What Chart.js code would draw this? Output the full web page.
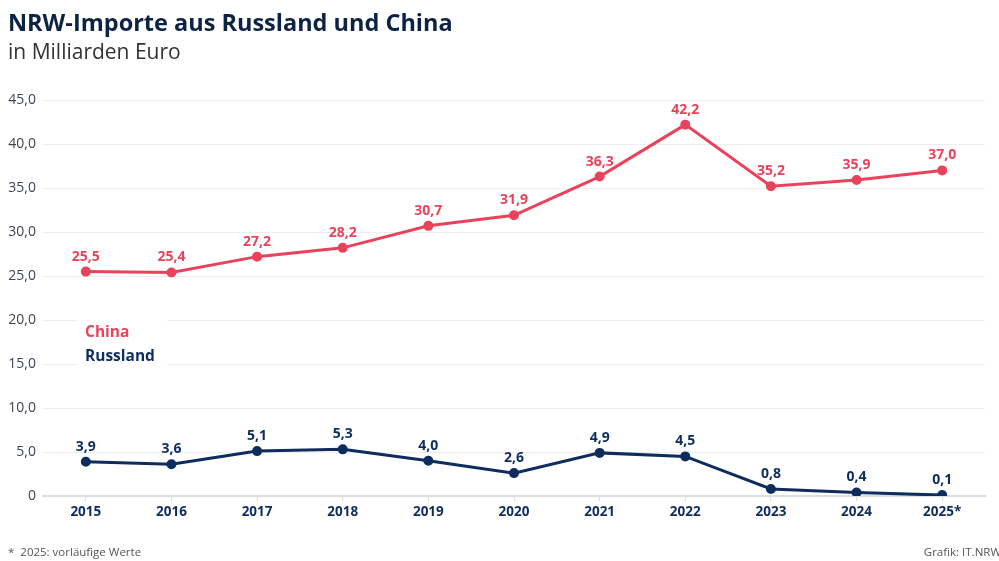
<!DOCTYPE html>
<html>
<head>
<meta charset="utf-8">
<script src="https://cdn.jsdelivr.net/npm/chart.js@4.4.1/dist/chart.umd.min.js"></script>
<style>
  html, body { margin: 0; padding: 0; background: #fff; }
  #wrap { position: relative; width: 999px; height: 561px; }
</style>
</head>
<body>
<div id="wrap"><canvas id="c" width="999" height="561"></canvas></div>
<script>
const years = ['2015', '2016', '2017', '2018', '2019', '2020', '2021', '2022', '2023', '2024', '2025*'];
const china = [25.5, 25.4, 27.2, 28.2, 30.7, 31.9, 36.3, 42.2, 35.2, 35.9, 37.0];
const russland = [3.9, 3.6, 5.1, 5.3, 4.0, 2.6, 4.9, 4.5, 0.8, 0.4, 0.1];

const RED = '#e8435b';
const NAVY = '#0e2d5e';
const FONT = '"Open Sans", "Noto Sans", sans-serif';

function fmt(v) {
    return v.toFixed(1).replace('.', ',');
}

// value labels above points
const valueLabels = {
    id: 'valueLabels',
    afterDatasetsDraw(chart) {
        const ctx = chart.ctx;
        ctx.save();
        ctx.font = 'bold 14px ' + FONT;
        ctx.textAlign = 'center';
        ctx.textBaseline = 'middle';
        chart.data.datasets.forEach((ds, i) => {
            const meta = chart.getDatasetMeta(i);
            ctx.fillStyle = ds.borderColor;
            meta.data.forEach((pt, j) => {
                ctx.fillText(fmt(ds.data[j]), pt.x, pt.y - 15);
            });
        });
        ctx.restore();
    }
};

// title, subtitle, legend box, footer
const decor = {
    id: 'decor',
    beforeDatasetsDraw(chart) {
        const ctx = chart.ctx;
        ctx.save();
        ctx.fillStyle = '#fff';
        ctx.fillRect(77, 317, 90, 50);
        ctx.font = 'bold 15.5px ' + FONT;
        ctx.textAlign = 'left';
        ctx.textBaseline = 'middle';
        ctx.fillStyle = RED;
        ctx.fillText('China', 85, 333);
        ctx.fillStyle = NAVY;
        ctx.fillText('Russland', 85, 357);
        ctx.restore();
    },
    afterDraw(chart) {
        const ctx = chart.ctx;
        ctx.save();
        ctx.textBaseline = 'alphabetic';
        ctx.textAlign = 'left';
        ctx.fillStyle = '#0c2343';
        ctx.font = 'bold 23.5px ' + FONT;
        ctx.fillText('NRW-Importe aus Russland und China', 8, 31);
        ctx.fillStyle = '#333';
        ctx.font = '21px ' + FONT;
        ctx.fillText('in Milliarden Euro', 8, 59);
        ctx.fillStyle = '#555';
        ctx.font = '11.5px ' + FONT;
        ctx.fillText('*  2025: vorläufige Werte', 8, 556);
        ctx.textAlign = 'right';
        ctx.fillText('Grafik: IT.NRW', 1001, 556);
        ctx.restore();
    }
};

new Chart(document.getElementById('c'), {
    type: 'line',
    data: {
        labels: years,
        datasets: [
            {
                label: 'China',
                data: china,
                borderColor: RED,
                backgroundColor: RED,
                borderWidth: 3,
                pointRadius: 3.5,
                pointBackgroundColor: RED,
                tension: 0
            },
            {
                label: 'Russland',
                data: russland,
                borderColor: NAVY,
                backgroundColor: NAVY,
                borderWidth: 3,
                pointRadius: 3.5,
                pointBackgroundColor: NAVY,
                tension: 0
            }
        ]
    },
    options: {
        responsive: false,
        animation: false,
        layout: { padding: { top: 100, right: 14, left: 0, bottom: 0 } },
        plugins: {
            legend: { display: false },
            tooltip: { enabled: false }
        },
        scales: {
            x: {
                offset: true,
                afterFit(scale) { scale.height = 65; },
                grid: {
                    drawOnChartArea: false,
                    drawTicks: true,
                    tickLength: 5,
                    color: '#dcdcdc'
                },
                border: { display: true, color: '#dedede', width: 2 },
                ticks: {
                    padding: 3,
                    color: NAVY,
                    font: { family: FONT, size: 13.5, weight: 'bold' }
                }
            },
            y: {
                min: 0,
                max: 45,
                afterFit(scale) { scale.width = 43; },
                grid: {
                    color: (c) => c.tick && c.tick.value === 0 ? '#dedede' : '#eeeeee',
                    lineWidth: 1,
                    drawTicks: false
                },
                border: { display: false },
                ticks: {
                    stepSize: 5,
                    padding: 7,
                    color: '#3f4650',
                    font: { family: FONT, size: 14 },
                    callback: (v) => v === 0 ? '0' : fmt(v)
                }
            }
        }
    },
    plugins: [valueLabels, decor]
});
</script>
</body>
</html>
